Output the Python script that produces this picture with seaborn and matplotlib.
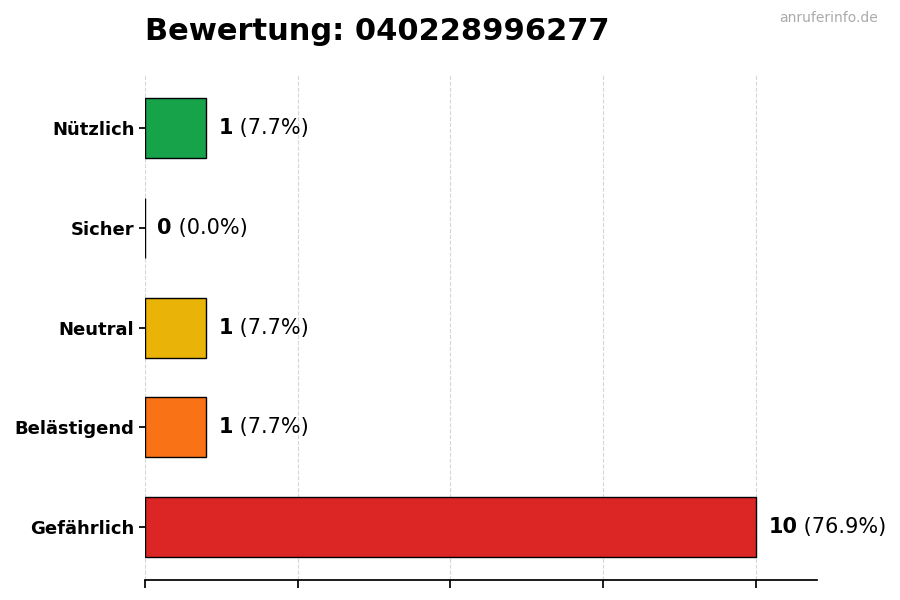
import matplotlib
matplotlib.use("Agg")
import matplotlib.pyplot as plt
import seaborn as sns
import pandas as pd

categories = ["Nützlich", "Sicher", "Neutral", "Belästigend", "Gefährlich"]
counts = [1, 0, 1, 1, 10]
percents = ["7.7%", "0.0%", "7.7%", "7.7%", "76.9%"]
colors = ["#16a34a", "#6b7280", "#eab308", "#f97316", "#dc2626"]
title = "Bewertung: 040228996277"
watermark = "anruferinfo.de"

sns.set_theme(style="white")
plt.rcParams['font.family'] = ['DejaVu Sans']
plt.rcParams['text.color'] = 'black'
plt.rcParams['xtick.color'] = 'black'
plt.rcParams['ytick.color'] = 'black'
plt.rcParams['axes.labelcolor'] = 'black'

df = pd.DataFrame({"cat": categories, "count": counts})

fig = plt.figure(figsize=(9, 6), dpi=100)
ax = fig.add_axes([0.161, 0.033, 0.747, 0.842])

sns.barplot(data=df, y="cat", x="count", hue="cat", palette=colors,
            order=categories, hue_order=categories, orient="h",
            width=0.6, edgecolor="black", linewidth=1, saturation=1,
            legend=False, ax=ax)

ax.set_xlim(0, 11)
ax.set_ylim(4.53, -0.53)
ax.set_xticks([0, 2.5, 5, 7.5, 10])
ax.set_xticklabels([])
ax.set_xlabel("")
ax.set_ylabel("")
ax.grid(axis="x", linestyle="--", color="#cccccc", linewidth=0.8, alpha=0.8)
ax.grid(axis="y", visible=False)
ax.set_axisbelow(True)
for s in ["top", "right", "left"]:
    ax.spines[s].set_visible(False)
ax.spines["bottom"].set_visible(True)
ax.spines["bottom"].set_color("black")
ax.tick_params(axis="y", length=4, color="black", left=True, labelsize=13, labelcolor="black")
ax.tick_params(axis="x", length=6, color="black", bottom=True, direction="out")
for lab in ax.get_yticklabels():
    lab.set_fontweight("bold")

for i, (c, p) in enumerate(zip(counts, percents)):
    t1 = ax.text(c + 0.2, i, str(c), fontsize=15, fontweight="bold",
                 va="center", ha="left", color="black")
    ax.annotate(f" ({p})", xy=(1, 0), xycoords=t1, fontsize=15,
                va="bottom", ha="left", color="black")

fig.text(0.161, 0.947, title, fontsize=22, fontweight="bold", ha="left", va="center", color="black")
fig.text(0.975, 0.97, watermark, fontsize=10, color="#aaaaaa", ha="right", va="center")

fig.savefig("out.png", dpi=100)
